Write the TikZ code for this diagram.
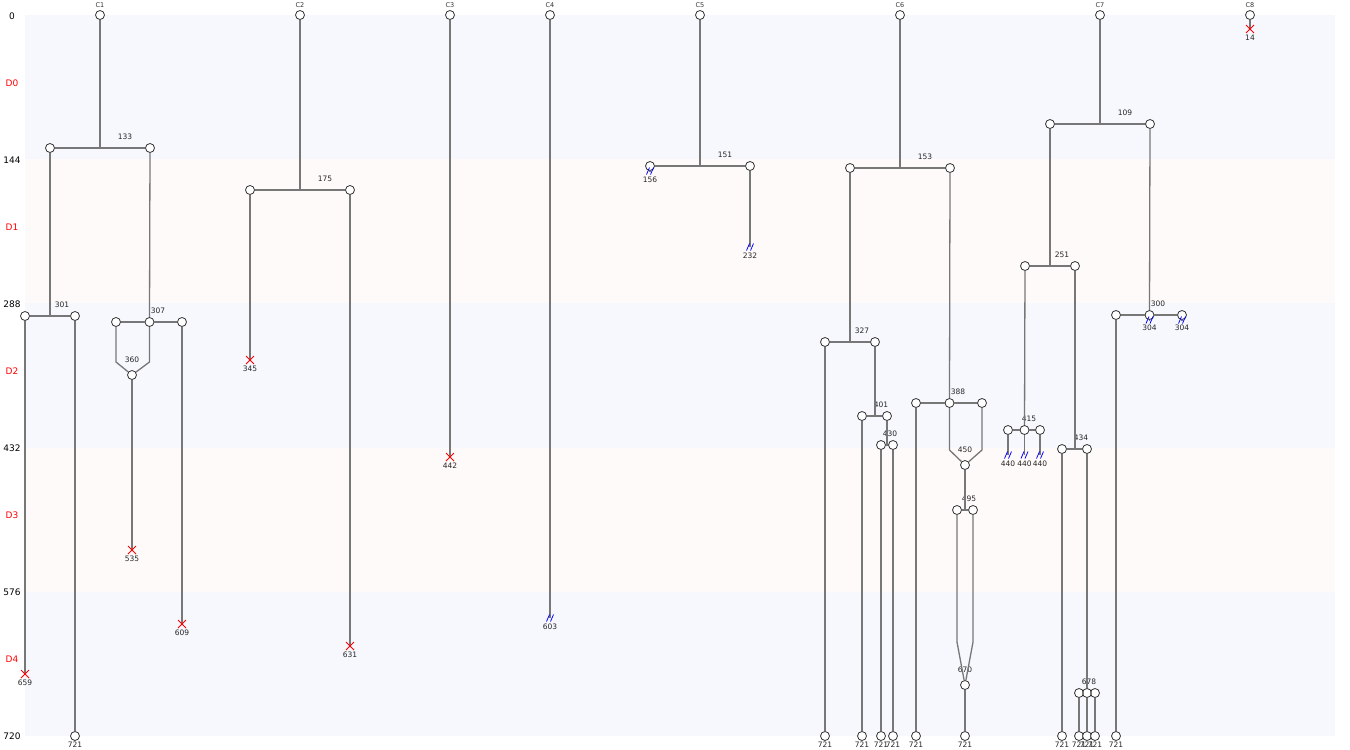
\documentclass[tikz,border=0pt]{standalone}
\usepackage{fontspec}
\setmainfont{DejaVu Sans}
\usetikzlibrary{positioning}
\definecolor{bandblue}{HTML}{F7F8FE}
\definecolor{bandpink}{HTML}{FEFAF9}
\definecolor{branchgray}{HTML}{777777}

\tikzset{
  ev/.style={circle, draw=black!80, fill=white, line width=0.8pt, minimum size=9pt, inner sep=0pt},
  br/.style={draw=branchgray, line width=1.3pt},
  tlbl/.style={font=\fontsize{7.5}{8}\selectfont, text=black!85, inner sep=0pt},
  clbl/.style={font=\fontsize{6.5}{7}\selectfont, text=black!80, inner sep=0pt},
  axlbl/.style={font=\fontsize{9}{10}\selectfont, inner sep=0pt},
  cut/.pic={\draw[red, line width=0.8pt] (-4,-4) -- (4,4) (-4,4) -- (4,-4);},
  brk/.pic={\draw[blue, line width=0.8pt] (-3.5,3.5) -- (-0.5,-3.5) (0.5,3.5) -- (3.5,-3.5);}
}

\begin{document}
\begin{tikzpicture}[x=1pt, y=-1pt]
  \useasboundingbox (0,0) rectangle (1350,750);
  % bands and axis
  \foreach \k/\col in {0/bandblue, 1/bandpink, 2/bandblue, 3/bandpink, 4/bandblue}
    \fill[\col] (25,{15+144.2*\k}) rectangle (1335,{15+144.2*(\k+1)});
  \foreach \k in {0,...,5}{
    \pgfmathtruncatemacro{\tv}{144*\k}
    \node[axlbl] (ax\k) at (12,{16+144*\k}) {\tv};
  }
  \foreach \k in {0,...,4}
    \node[axlbl, text=red] (dom\k) at (12,{83+144*\k}) {D\k};

  % C1
  \node[ev] (c1) at (100,15) {};
  \node[clbl] (c1l) at (100,5) {C1};
  \coordinate (j133) at (100,148);
  \node[ev] (n133a) at (50,148) {};
  \node[ev] (n133b) at (150,148) {};
  \node[tlbl] (l133) at (125,137) {133};
  \coordinate (j301) at (50,316);
  \node[ev] (n301a) at (25,316) {};
  \node[ev] (n301b) at (75,316) {};
  \node[tlbl] (l301) at (62,305) {301};
  \coordinate (x659) at (25,674);
  \node[tlbl] (l659) at (25,683) {659};
  \node[ev] (e1a) at (75,736) {};
  \node[tlbl] (le1a) at (75,745) {721};
  \node[ev] (n307a) at (116,322) {};
  \node[ev] (n307b) at (149.5,322) {};
  \node[ev] (n307c) at (182,322) {};
  \node[tlbl] (l307) at (158,311) {307};
  \coordinate (k360a) at (116,362);
  \coordinate (k360b) at (149.5,362);
  \node[ev] (m360) at (132,375) {};
  \node[tlbl] (l360) at (132,360) {360};
  \coordinate (x535) at (132,550);
  \node[tlbl] (l535) at (132,559) {535};
  \coordinate (x609) at (182,624);
  \node[tlbl] (l609) at (182,633) {609};

  % C2
  \node[ev] (c2) at (300,15) {};
  \node[clbl] (c2l) at (300,5) {C2};
  \coordinate (j175) at (300,190);
  \node[ev] (n175a) at (250,190) {};
  \node[ev] (n175b) at (350,190) {};
  \node[tlbl] (l175) at (325,179) {175};
  \coordinate (x345) at (250,360);
  \node[tlbl] (l345) at (250,369) {345};
  \coordinate (x631) at (350,646);
  \node[tlbl] (l631) at (350,655) {631};

  % C3 and C4
  \node[ev] (c3) at (450,15) {};
  \node[clbl] (c3l) at (450,5) {C3};
  \coordinate (x442) at (450,457);
  \node[tlbl] (l442) at (450,466) {442};
  \node[ev] (c4) at (550,15) {};
  \node[clbl] (c4l) at (550,5) {C4};
  \coordinate (b603) at (550,618);
  \node[tlbl] (l603) at (550,627) {603};

  % C5
  \node[ev] (c5) at (700,15) {};
  \node[clbl] (c5l) at (700,5) {C5};
  \coordinate (j151) at (700,166);
  \node[ev] (n151a) at (650,166) {};
  \node[ev] (n151b) at (750,166) {};
  \node[tlbl] (l151) at (725,155) {151};
  \coordinate (b156) at (650,171);
  \node[tlbl] (l156) at (650,180) {156};
  \coordinate (b232) at (750,247);
  \node[tlbl] (l232) at (750,256) {232};

  % C6
  \node[ev] (c6) at (900,15) {};
  \node[clbl] (c6l) at (900,5) {C6};
  \coordinate (j153) at (900,168);
  \node[ev] (n153a) at (850,168) {};
  \node[ev] (n153b) at (950,168) {};
  \node[tlbl] (l153) at (925,157) {153};
  \coordinate (j327) at (850,342);
  \node[ev] (n327a) at (825,342) {};
  \node[ev] (n327b) at (875,342) {};
  \node[tlbl] (l327) at (862,331) {327};
  \coordinate (j401) at (875,416);
  \node[ev] (n401a) at (862,416) {};
  \node[ev] (n401b) at (887,416) {};
  \node[tlbl] (l401) at (881,405) {401};
  \coordinate (j430) at (887,445);
  \node[ev] (n430a) at (881,445) {};
  \node[ev] (n430b) at (893,445) {};
  \node[tlbl] (l430) at (890,434) {430};
  \node[ev] (n388a) at (916,403) {};
  \node[ev] (n388b) at (949.5,403) {};
  \node[ev] (n388c) at (982,403) {};
  \node[tlbl] (l388) at (958,392) {388};
  \coordinate (k450a) at (949.5,450);
  \coordinate (k450b) at (982,450);
  \node[ev] (m450) at (965,465) {};
  \node[tlbl] (l450) at (965,450) {450};
  \coordinate (j495) at (965,510);
  \node[ev] (n495a) at (957,510) {};
  \node[ev] (n495b) at (973,510) {};
  \node[tlbl] (l495) at (969,499) {495};
  \coordinate (k670a) at (957,642);
  \coordinate (k670b) at (973,642);
  \node[ev] (m670) at (965,685) {};
  \node[tlbl] (l670) at (965,670) {670};
  \node[ev] (e6a) at (825,736) {};
  \node[ev] (e6b) at (862,736) {};
  \node[ev] (e6c) at (881,736) {};
  \node[ev] (e6d) at (893,736) {};
  \node[ev] (e6e) at (916,736) {};
  \node[ev] (e6f) at (965,736) {};
  \node[tlbl] (le6a) at (825,745) {721};
  \node[tlbl] (le6b) at (862,745) {721};
  \node[tlbl] (le6c) at (881,745) {721};
  \node[tlbl] (le6d) at (893,745) {721};
  \node[tlbl] (le6e) at (916,745) {721};
  \node[tlbl] (le6f) at (965,745) {721};

  % C7
  \node[ev] (c7) at (1100,15) {};
  \node[clbl] (c7l) at (1100,5) {C7};
  \coordinate (j109) at (1100,124);
  \node[ev] (n109a) at (1050,124) {};
  \node[ev] (n109b) at (1150,124) {};
  \node[tlbl] (l109) at (1125,113) {109};
  \coordinate (j251) at (1050,266);
  \node[ev] (n251a) at (1025,266) {};
  \node[ev] (n251b) at (1075,266) {};
  \node[tlbl] (l251) at (1062,255) {251};
  \node[ev] (n415a) at (1008,430) {};
  \node[ev] (n415b) at (1024.5,430) {};
  \node[ev] (n415c) at (1040,430) {};
  \node[tlbl] (l415) at (1029,419) {415};
  \coordinate (b440a) at (1008,455);
  \coordinate (b440b) at (1024.5,455);
  \coordinate (b440c) at (1040,455);
  \node[tlbl] (l440a) at (1008,464) {440};
  \node[tlbl] (l440b) at (1024.5,464) {440};
  \node[tlbl] (l440c) at (1040,464) {440};
  \coordinate (j434) at (1075,449);
  \node[ev] (n434a) at (1062,449) {};
  \node[ev] (n434b) at (1087,449) {};
  \node[tlbl] (l434) at (1081,438) {434};
  \node[ev] (n678a) at (1079,693) {};
  \node[ev] (n678b) at (1087,693) {};
  \node[ev] (n678c) at (1095,693) {};
  \node[tlbl] (l678) at (1089,682) {678};
  \node[ev] (n300a) at (1116,315) {};
  \node[ev] (n300b) at (1149.5,315) {};
  \node[ev] (n300c) at (1182,315) {};
  \node[tlbl] (l300) at (1158,304) {300};
  \coordinate (b304a) at (1149.5,320);
  \coordinate (b304b) at (1182,320);
  \node[tlbl] (l304a) at (1149.5,328) {304};
  \node[tlbl] (l304b) at (1182,328) {304};
  \node[ev] (e7a) at (1062,736) {};
  \node[ev] (e7b) at (1079,736) {};
  \node[ev] (e7c) at (1087,736) {};
  \node[ev] (e7d) at (1095,736) {};
  \node[ev] (e7e) at (1116,736) {};
  \node[tlbl] (le7a) at (1062,745) {721};
  \node[tlbl] (le7b) at (1079,745) {721};
  \node[tlbl] (le7c) at (1087,745) {721};
  \node[tlbl] (le7d) at (1095,745) {721};
  \node[tlbl] (le7e) at (1116,745) {721};

  % C8
  \node[ev] (c8) at (1250,15) {};
  \node[clbl] (c8l) at (1250,5) {C8};
  \coordinate (x14) at (1250,29);
  \node[tlbl] (l14) at (1250,38) {14};

  % branches
  \draw[br] (c1) -- (j133);
  \draw[br] (n133a) -- (n133b);
  \draw[br] (n133a) -- (j301);
  \draw[br] (n301a) -- (n301b);
  \draw[br] (n301a) -- (x659);
  \draw[br] (n301b) -- (e1a);
  \draw[br] (n133b) -- (n307b);
  \draw[br] (n307a) -- (n307b) -- (n307c);
  \draw[br] (n307a) -- (k360a) -- (m360);
  \draw[br] (n307b) -- (k360b) -- (m360);
  \draw[br] (m360) -- (x535);
  \draw[br] (n307c) -- (x609);

  \draw[br] (c2) -- (j175);
  \draw[br] (n175a) -- (n175b);
  \draw[br] (n175a) -- (x345);
  \draw[br] (n175b) -- (x631);

  \draw[br] (c3) -- (x442);
  \draw[br] (c4) -- (b603);

  \draw[br] (c5) -- (j151);
  \draw[br] (n151a) -- (n151b);
  \draw[br] (n151a) -- (b156);
  \draw[br] (n151b) -- (b232);

  \draw[br] (c6) -- (j153);
  \draw[br] (n153a) -- (n153b);
  \draw[br] (n153a) -- (j327);
  \draw[br] (n327a) -- (n327b);
  \draw[br] (n327a) -- (e6a);
  \draw[br] (n327b) -- (j401);
  \draw[br] (n401a) -- (n401b);
  \draw[br] (n401a) -- (e6b);
  \draw[br] (n401b) -- (j430);
  \draw[br] (n430a) -- (n430b);
  \draw[br] (n430a) -- (e6c);
  \draw[br] (n430b) -- (e6d);
  \draw[br] (n153b) -- (n388b);
  \draw[br] (n388a) -- (n388b) -- (n388c);
  \draw[br] (n388a) -- (e6e);
  \draw[br] (n388b) -- (k450a) -- (m450);
  \draw[br] (n388c) -- (k450b) -- (m450);
  \draw[br] (m450) -- (j495);
  \draw[br] (n495a) -- (n495b);
  \draw[br] (n495a) -- (k670a) -- (m670);
  \draw[br] (n495b) -- (k670b) -- (m670);
  \draw[br] (m670) -- (e6f);

  \draw[br] (c7) -- (j109);
  \draw[br] (n109a) -- (n109b);
  \draw[br] (n109a) -- (j251);
  \draw[br] (n251a) -- (n251b);
  \draw[br] (n251a) -- (n415b);
  \draw[br] (n415a) -- (n415b) -- (n415c);
  \draw[br] (n415a) -- (b440a);
  \draw[br] (n415b) -- (b440b);
  \draw[br] (n415c) -- (b440c);
  \draw[br] (n251b) -- (j434);
  \draw[br] (n434a) -- (n434b);
  \draw[br] (n434a) -- (e7a);
  \draw[br] (n434b) -- (n678b);
  \draw[br] (n678a) -- (n678b) -- (n678c);
  \draw[br] (n678a) -- (e7b);
  \draw[br] (n678b) -- (e7c);
  \draw[br] (n678c) -- (e7d);
  \draw[br] (n109b) -- (n300b);
  \draw[br] (n300a) -- (n300b) -- (n300c);
  \draw[br] (n300a) -- (e7e);
  \draw[br] (n300b) -- (b304a);
  \draw[br] (n300c) -- (b304b);

  \draw[br] (c8) -- (x14);

  % ends
  \pic at (x659) {cut};
  \pic at (x535) {cut};
  \pic at (x609) {cut};
  \pic at (x345) {cut};
  \pic at (x631) {cut};
  \pic at (x442) {cut};
  \pic at (x14) {cut};
  \pic at (b603) {brk};
  \pic at (b156) {brk};
  \pic at (b232) {brk};
  \pic at (b440a) {brk};
  \pic at (b440b) {brk};
  \pic at (b440c) {brk};
  \pic at (b304a) {brk};
  \pic at (b304b) {brk};
\end{tikzpicture}
\end{document}
